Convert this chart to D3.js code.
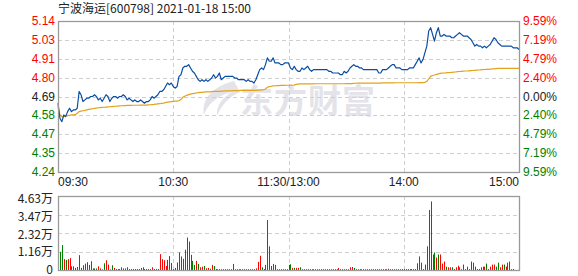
<!DOCTYPE html>
<html>
<head>
<meta charset="utf-8">
<script src="https://cdn.jsdelivr.net/npm/d3@7"></script>
<style>
  html, body { margin: 0; padding: 0; background: #fff; }
  svg { display: block; }
</style>
</head>
<body>
<svg id="chart" width="578" height="276"></svg>
<script>
// 宁波海运 intraday chart (price + average + volume)

// ─── Data ────────────────────────────────────────────────────────────────────
const title = '宁波海运[600798] 2021-01-18 15:00';
const preClose = 4.69;
const maxPct = 0.0959;

const priceTicks = ['5.14', '5.03', '4.91', '4.80', '4.69', '4.58', '4.47', '4.35', '4.24'];
const pctTicks   = ['9.59%', '7.19%', '4.79%', '2.40%', '0.00%', '2.40%', '4.79%', '7.19%', '9.59%'];
const volTicks   = ['4.63万', '3.47万', '2.32万', '1.16万', '0'];
const volMax = 4.63;

const timeLabels = ['09:30', '10:30', '11:30/13:00', '14:00', '15:00'];
const timeIdx    = [0, 60, 120, 180, 240];

// minute price (241 points, 09:30 … 11:30 | 13:01 … 15:00)
const price = [
  4.65,4.56,4.54,4.58,4.57,4.60,4.62,4.60,4.61,4.61,
  4.62,4.72,4.70,4.66,4.67,4.68,4.68,4.69,4.69,4.70,
  4.69,4.67,4.68,4.66,4.68,4.70,4.69,4.66,4.68,4.69,
  4.69,4.68,4.69,4.69,4.70,4.69,4.67,4.68,4.67,4.66,
  4.67,4.66,4.66,4.67,4.66,4.65,4.66,4.66,4.67,4.69,
  4.68,4.69,4.70,4.72,4.72,4.73,4.75,4.77,4.76,4.77,
  4.75,4.74,4.75,4.81,4.82,4.86,4.87,4.87,4.88,4.86,
  4.84,4.83,4.81,4.79,4.78,4.79,4.78,4.79,4.78,4.79,
  4.80,4.82,4.80,4.81,4.83,4.79,4.80,4.81,4.81,4.81,
  4.81,4.81,4.80,4.80,4.79,4.79,4.79,4.79,4.78,4.79,
  4.78,4.78,4.77,4.79,4.82,4.85,4.86,4.85,4.88,4.92,
  4.90,4.90,4.92,4.89,4.89,4.89,4.88,4.88,4.89,4.89,
  4.89,4.86,4.85,4.87,4.85,4.84,4.84,4.86,4.85,4.86,
  4.87,4.85,4.84,4.85,4.85,4.85,4.85,4.85,4.85,4.85,
  4.85,4.84,4.84,4.83,4.83,4.83,4.83,4.82,4.82,4.84,
  4.83,4.84,4.86,4.87,4.88,4.87,4.87,4.86,4.86,4.85,
  4.85,4.85,4.85,4.85,4.85,4.85,4.85,4.83,4.83,4.85,
  4.85,4.85,4.86,4.87,4.88,4.88,4.86,4.86,4.86,4.85,
  4.85,4.85,4.85,4.86,4.86,4.86,4.88,4.90,4.92,4.89,
  4.91,4.95,4.99,5.08,5.10,5.06,5.02,5.07,5.10,5.05,
  5.05,5.06,5.05,5.05,5.05,5.04,5.04,5.05,5.06,5.07,
  5.06,5.05,5.05,5.05,5.04,5.03,5.01,4.99,5.00,4.99,
  4.99,4.98,4.99,4.98,4.99,5.00,5.02,5.04,5.03,5.01,
  5.00,4.99,4.99,4.99,4.99,4.99,4.99,4.98,4.98,4.98,
  4.97
];

// average price line
const avgPrice = [
  4.63,4.58,4.57,4.57,4.575,4.576,4.578,4.58,4.58,4.582,
  4.59,4.60,4.603,4.605,4.607,4.61,4.613,4.615,4.617,4.619,
  4.621,4.623,4.624,4.625,4.626,4.627,4.628,4.629,4.63,4.631,
  4.632,4.633,4.634,4.635,4.636,4.636,4.637,4.637,4.637,4.638,
  4.638,4.638,4.638,4.639,4.639,4.639,4.639,4.64,4.641,4.642,
  4.643,4.645,4.646,4.647,4.649,4.651,4.654,4.656,4.658,4.66,
  4.661,4.662,4.663,4.666,4.672,4.685,4.692,4.697,4.701,4.704,
  4.707,4.709,4.711,4.713,4.714,4.715,4.716,4.717,4.717,4.718,
  4.719,4.72,4.72,4.721,4.721,4.722,4.722,4.723,4.723,4.724,
  4.724,4.725,4.725,4.725,4.725,4.726,4.726,4.726,4.726,4.727,
  4.727,4.727,4.727,4.727,4.728,4.728,4.729,4.73,4.735,4.745,
  4.749,4.751,4.753,4.754,4.755,4.755,4.756,4.756,4.756,4.757,
  4.757,4.757,4.757,4.758,4.762,4.764,4.765,4.765,4.765,4.765,
  4.765,4.765,4.765,4.765,4.766,4.766,4.766,4.766,4.766,4.766,
  4.766,4.766,4.766,4.766,4.766,4.766,4.766,4.766,4.766,4.766,
  4.767,4.767,4.767,4.767,4.768,4.769,4.77,4.77,4.77,4.77,
  4.77,4.77,4.77,4.77,4.77,4.77,4.77,4.77,4.77,4.771,
  4.771,4.771,4.771,4.771,4.771,4.771,4.772,4.772,4.772,4.772,
  4.772,4.772,4.772,4.772,4.772,4.772,4.772,4.772,4.773,4.773,
  4.773,4.774,4.78,4.795,4.81,4.815,4.818,4.822,4.825,4.828,
  4.829,4.83,4.831,4.832,4.833,4.834,4.835,4.836,4.838,4.839,
  4.84,4.841,4.842,4.842,4.843,4.844,4.845,4.846,4.847,4.848,
  4.849,4.85,4.851,4.852,4.852,4.853,4.854,4.855,4.856,4.857,
  4.858,4.858,4.858,4.858,4.858,4.858,4.858,4.858,4.858,4.858,
  4.858
];

// volume per minute, 万股
const volume = [
  0,1.14,1.56,0.68,0.63,0.68,0.74,0.23,0.23,0.13,
  0.19,0.93,0.13,0.30,0.40,0.49,0.32,0.55,0.10,0.10,
  0.10,0.23,0.10,0.04,0.42,0.61,0.34,0.04,0.30,0.13,
  0.06,0.06,0.06,0.17,0.10,0.10,0.17,0.06,0.06,0.06,
  0.06,0.06,0.06,0.13,0.17,0.06,0.06,0.06,0.06,0.17,
  0.06,0.06,0.06,0.99,0.68,0.61,0.25,0.63,0.87,0.44,
  0.06,0.13,0.47,1.10,0.85,0.70,1.27,2.03,1.78,0.95,
  0.57,0.32,0.57,0.38,0.17,0.21,0.25,0.11,0.13,0.08,
  0.32,0.25,0.06,0.05,0.05,0.05,0.05,0.05,0.05,0.05,
  0.05,0.38,0.05,0.05,0.05,0.05,0.05,0.05,0.05,0.05,
  0.05,0.05,0.05,0.10,0.51,0.89,0.17,0.06,0.32,3.13,
  1.48,0.25,0.38,0.32,0.05,0.05,0.05,0.05,0.05,0.05,
  0.32,0.36,0.13,0.13,0.13,0.13,0.17,0.05,0.05,0.05,
  0.05,0.05,0.05,0.05,0.05,0.05,0.05,0.05,0.05,0.05,
  0.05,0.05,0.05,0.05,0.05,0.05,0.13,0.05,0.05,0.05,
  0.05,0.05,0.17,0.19,0.13,0.05,0.05,0.05,0.05,0.05,
  0.05,0.05,0.05,0.05,0.05,0.05,0.05,0.05,0.05,0.05,
  0.05,0.05,0.08,0.05,0.05,0.05,0.05,0.05,0.05,0.06,
  0.06,0.06,0.06,0.06,0.06,0.06,0.06,0.42,0.85,0.46,
  0.06,0.34,1.48,3.76,4.29,0.97,1.10,0.78,0.97,0.97,
  0.40,0.53,0.21,0.17,0.17,0.17,0.06,0.17,0.27,0.17,
  0.05,0.34,0.06,0.21,0.06,0.53,0.46,0.21,0.06,0.06,
  0.17,0.21,0.21,0.40,0.06,0.21,0.34,0.34,0.21,0.46,
  0.17,0.34,0.34,0.21,0.46,0.53,0.05,0.06,0,0,
  1.23
];

// bar colour per minute: r = up (red), g = down (green)
const volDir = (
  'gggrgrrggr' + 'rrggrrrrgg' + 'grrggrrggr' + 'rgrrrrggrr' + 'grgrgrrgrr' +
  'grrrrrrrrg' + 'ggrrgrrrrg' + 'ggrgrrgrrg' + 'rgrrrgrrrr' + 'ggggrrgrrg' +
  'rrrrrrgrrr' + 'ggrggrrrgr' + 'ggrgrrgrrr' + 'ggrrrgrgrr' + 'grrgrgrrgr' +
  'rgrrgrgrrg' + 'rgrrgrrgrg' + 'rrrgrgrrgr' + 'rrrrrrrrrg' + 'grrrgggrgr' +
  'rrgrrgrrrr' + 'gggrggggrg' + 'rrrgrrrrgg' + 'rrgrrrgggg' + 'g'
).split('');

// ─── Style ───────────────────────────────────────────────────────────────────
const C = {
  priceLine: '#0a4ea3',
  avgLine:   '#e2a31c',
  up:        '#ff0000',
  down:      '#008000',
  flat:      '#222222',
  border:    '#9a9a9a',
  grid:      '#cfcfcf',
  text:      '#222222',
  watermark: '#e3e3e9',
  font:      '"Liberation Sans", Arial, "Noto Sans CJK SC", sans-serif',
  fontCjk:   '"Noto Sans CJK SC", "Liberation Sans", sans-serif',
};

const P = { left: 58, right: 519, top: 21, bottom: 172 };
const V = { top: 196, bottom: 270 };

const svg = d3.select('#chart');

// ─── Scales ──────────────────────────────────────────────────────────────────
const x = d3.scaleLinear().domain([0, 240]).range([P.left, P.right]);
const yP = d3.scaleLinear()
  .domain([preClose * (1 - maxPct), preClose * (1 + maxPct)])
  .range([P.bottom, P.top]);
const priceStep = preClose * maxPct / 4;
const gridPrices = d3.range(9).map(k => preClose * (1 + maxPct) - k * priceStep);
const yV = d3.scaleLinear().domain([0, volMax]).range([V.bottom, V.top]);
const volGrid = d3.range(5).map(k => volMax - k * volMax / 4);

// ─── Title ───────────────────────────────────────────────────────────────────
svg.append('text')
  .attr('x', 58).attr('y', 13)
  .attr('font-size', 12).attr('font-family', C.fontCjk)
  .attr('fill', C.text)
  .text(title);

// ─── Watermark ───────────────────────────────────────────────────────────────
const wm = svg.append('g').attr('fill', C.watermark);
wm.append('path')
  .attr('d', 'M234,81 C214,86 201,98 204,115 C208,104 216,96 232,92 C222,98 216,106 217,116 C222,104 230,96 240,92 Z');
wm.append('text')
  .attr('x', 240).attr('y', 113)
  .attr('font-size', 33).attr('font-weight', 700)
  .attr('font-family', C.fontCjk)
  .attr('letter-spacing', 1)
  .text('东方财富');

// ─── Price grid ──────────────────────────────────────────────────────────────
svg.selectAll('line.pgrid').data(gridPrices.slice(1, 8)).enter().append('line')
  .attr('x1', P.left).attr('x2', P.right)
  .attr('y1', d => Math.round(yP(d)) + 0.5).attr('y2', d => Math.round(yP(d)) + 0.5)
  .attr('stroke', C.grid).attr('stroke-dasharray', '4,3');

svg.selectAll('line.vgrid').data(timeIdx.slice(1, 4)).enter().append('line')
  .attr('x1', d => Math.round(x(d)) + 0.5).attr('x2', d => Math.round(x(d)) + 0.5)
  .attr('y1', P.top).attr('y2', P.bottom)
  .attr('stroke', C.grid).attr('stroke-dasharray', '4,3');

// price axis labels (left)
svg.selectAll('text.pl').data(priceTicks).enter().append('text')
  .attr('x', 55).attr('y', (d, i) => yP(gridPrices[i]) + 4)
  .attr('text-anchor', 'end').attr('font-size', 12).attr('font-family', C.font)
  .attr('fill', (d, i) => i < 4 ? C.up : (i === 4 ? C.flat : C.down))
  .text(d => d);

// percent labels (right)
svg.selectAll('text.pr').data(pctTicks).enter().append('text')
  .attr('x', 523).attr('y', (d, i) => yP(gridPrices[i]) + 4)
  .attr('font-size', 12).attr('font-family', C.font)
  .attr('fill', (d, i) => i < 4 ? C.up : (i === 4 ? C.flat : C.down))
  .text(d => d);

// ─── Lines ───────────────────────────────────────────────────────────────────
const line = d3.line().x((d, i) => x(i)).y(d => yP(d));
svg.append('path').datum(avgPrice)
  .attr('d', line).attr('fill', 'none')
  .attr('stroke', C.avgLine).attr('stroke-width', 1.2);
svg.append('path').datum(price)
  .attr('d', line).attr('fill', 'none')
  .attr('stroke', C.priceLine).attr('stroke-width', 1.2)
  .attr('stroke-linejoin', 'round');

// price frame
svg.append('rect')
  .attr('x', P.left + 0.5).attr('y', P.top + 0.5)
  .attr('width', P.right - P.left).attr('height', P.bottom - P.top)
  .attr('fill', 'none').attr('stroke', C.border).attr('stroke-width', 1.3);

// time labels
const anchors = ['start', 'middle', 'middle', 'middle', 'end'];
svg.selectAll('text.tl').data(timeLabels).enter().append('text')
  .attr('x', (d, i) => x(timeIdx[i]))
  .attr('y', 186)
  .attr('text-anchor', (d, i) => anchors[i])
  .attr('font-size', 12).attr('font-family', C.font)
  .attr('fill', C.text)
  .text(d => d);

// ─── Volume ──────────────────────────────────────────────────────────────────
svg.selectAll('line.vg').data(volGrid.slice(1, 4)).enter().append('line')
  .attr('x1', P.left).attr('x2', P.right)
  .attr('y1', d => Math.round(yV(d)) + 0.5).attr('y2', d => Math.round(yV(d)) + 0.5)
  .attr('stroke', C.grid).attr('stroke-dasharray', '4,3');

svg.selectAll('line.vv').data(timeIdx.slice(1, 4)).enter().append('line')
  .attr('x1', d => Math.round(x(d)) + 0.5).attr('x2', d => Math.round(x(d)) + 0.5)
  .attr('y1', V.top).attr('y2', V.bottom)
  .attr('stroke', C.grid).attr('stroke-dasharray', '4,3');

svg.selectAll('rect.vol').data(volume).enter().append('rect')
  .attr('x', (d, i) => Math.round(x(i)))
  .attr('y', d => yV(d))
  .attr('width', 1)
  .attr('height', d => V.bottom - yV(d))
  .attr('fill', (d, i) => volDir[i] === 'r' ? C.up : C.down);

svg.append('rect')
  .attr('x', P.left + 0.5).attr('y', V.top + 0.5)
  .attr('width', P.right - P.left).attr('height', V.bottom - V.top)
  .attr('fill', 'none').attr('stroke', C.border).attr('stroke-width', 1.3);

const volLabelY = d3.scaleLinear().domain([0, volMax]).range([V.bottom + 4, V.top + 7]);
svg.selectAll('text.vl').data(volTicks).enter().append('text')
  .attr('x', 53).attr('y', (d, i) => volLabelY(volGrid[i]))
  .attr('text-anchor', 'end').attr('font-size', 12).attr('font-family', C.fontCjk)
  .attr('fill', C.text)
  .text(d => d);
</script>
</body>
</html>
